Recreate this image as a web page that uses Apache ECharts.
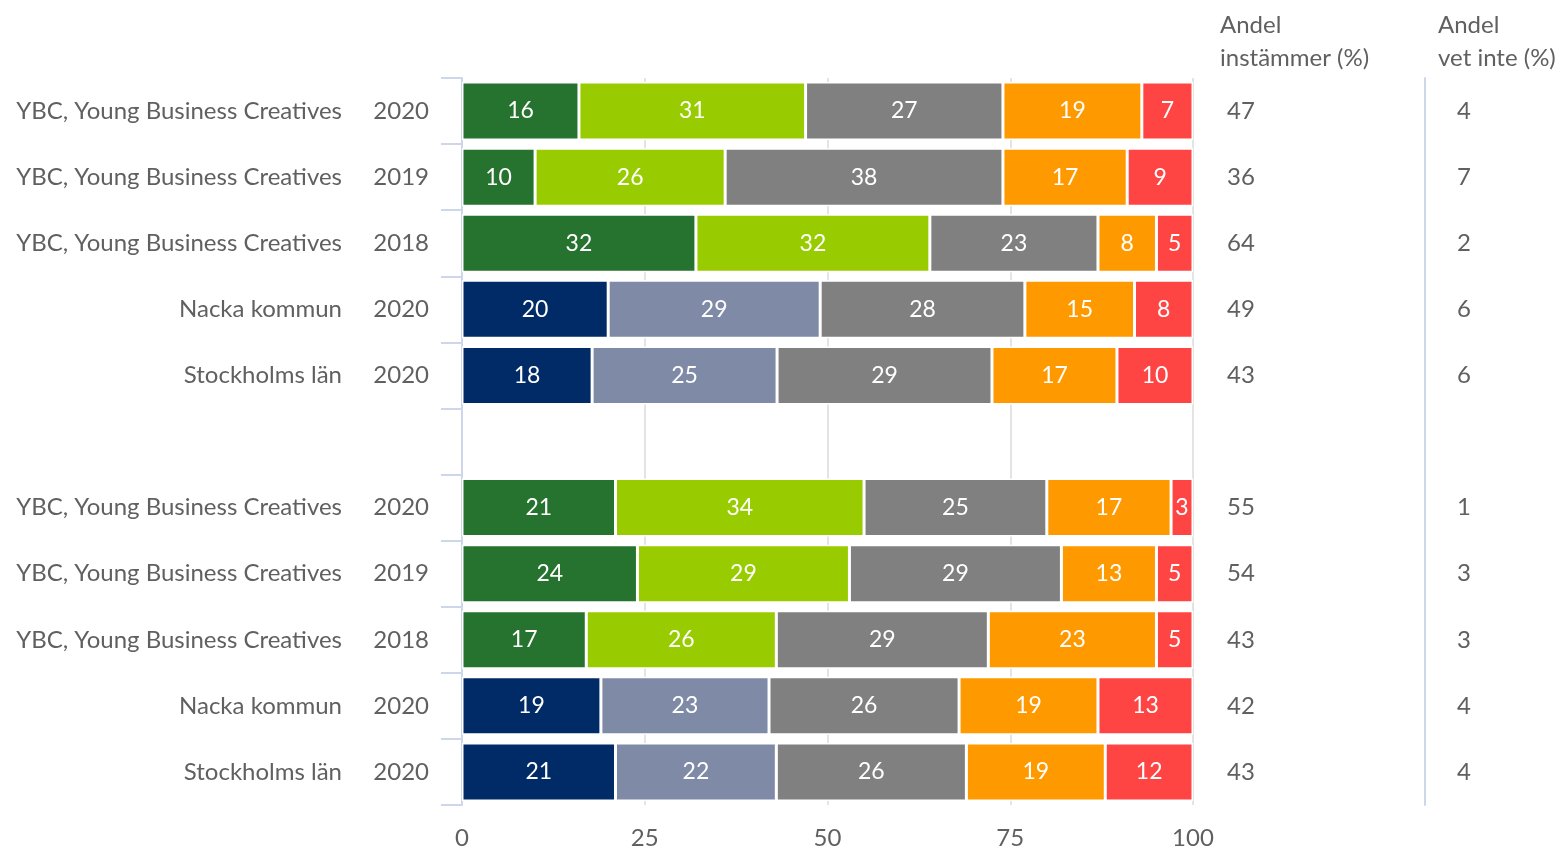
<!DOCTYPE html>
<html style="height: 100%">
<head>
    <meta charset="utf-8">
    <script src="https://cdn.jsdelivr.net/npm/echarts@6/dist/echarts.min.js"></script>
</head>
<body style="height: 100%; margin: 0">
    <div id="main" style="width:1568px;height:850px;"></div>
    <script type="text/javascript">
    // rader (tom rad = mellanrum mellan grupperna)
    var names = ['YBC, Young Business Creatives', 'YBC, Young Business Creatives', 'YBC, Young Business Creatives', 'Nacka kommun', 'Stockholms län', '',
        'YBC, Young Business Creatives', 'YBC, Young Business Creatives', 'YBC, Young Business Creatives', 'Nacka kommun', 'Stockholms län'];
    var years = ['2020', '2019', '2018', '2020', '2020', '', '2020', '2019', '2018', '2020', '2020'];
    var rowKind = ['ybc', 'ybc', 'ybc', 'reg', 'reg', '', 'ybc', 'ybc', 'ybc', 'reg', 'reg'];

    // andelar (%) per svarsalternativ
    var s1 = [16, 10, 32, 20, 17.8, '-', 21, 24, 17, 19, 21];
    var s2 = [31, 26, 32, 29, 25.3, '-', 34, 29, 26, 23, 22];
    var s3 = [27, 38, 23, 28, 29.4, '-', 25, 29, 29, 26, 26];
    var s4 = [19, 17, 8, 15, 17.1, '-', 17, 13, 23, 19, 19];
    var s5 = [7, 9, 5, 8, 10.4, '-', 3, 5, 5, 13, 12];

    var instammer = ['47', '36', '64', '49', '43', '', '55', '54', '43', '42', '43'];
    var vetInte = ['4', '7', '2', '6', '6', '', '1', '3', '3', '4', '4'];

    var xTicks = [0, 25, 50, 75, 100];

    var FONT = 'Lato';
    var FS = 24;
    var TXT = '#606060';
    var AXC = '#cdd6ea';
    var colors1 = { ybc: '#25732f', reg: '#002b66' };
    var colors2 = { ybc: '#99cc00', reg: '#7f8aa6' };

    var rows = names.map(function(n, i) { return 'r' + i; });

    function coloured(arr, map) {
        return arr.map(function(v, i) {
            if (v === '-') return v;
            return { value: v, itemStyle: { color: map[rowKind[i]] } };
        });
    }

    var barLabel = {
        show: true,
        color: '#fff',
        fontFamily: FONT,
        fontSize: 23,
        formatter: function(p) { return Math.round(p.value); }
    };

    function mkSeries(data, color) {
        return {
            type: 'bar',
            stack: 'tot',
            yAxisIndex: 0,
            barWidth: 58,
            data: data,
            label: barLabel,
            itemStyle: { color: color, borderColor: '#fff', borderWidth: 1.5 },
            emphasis: { disabled: true },
            silent: true
        };
    }

    var myChart = echarts.init(document.getElementById('main'));
    var option = {
        animation: false,
        textStyle: { fontFamily: FONT },
        title: [{
            text: 'Andel\ninstämmer (%)',
            left: 1215, top: 4,
            textStyle: { color: TXT, fontFamily: FONT, fontSize: FS, fontWeight: 'normal', lineHeight: 33 }
        }, {
            text: 'Andel\nvet inte (%)',
            left: 1433, top: 4,
            textStyle: { color: TXT, fontFamily: FONT, fontSize: FS, fontWeight: 'normal', lineHeight: 33 }
        }],
        grid: { left: 462, right: 375, top: 78, bottom: 44 },
        xAxis: {
            type: 'value',
            min: 0, max: 100, interval: 25,
            axisLine: { show: false },
            axisTick: { show: false },
            splitLine: { show: true, lineStyle: { color: '#e4e4e4', width: 2 } },
            axisLabel: {
                color: TXT, fontFamily: FONT, fontSize: FS, margin: 21,
                formatter: function(v) { return xTicks.indexOf(v) >= 0 ? String(v) : ''; }
            }
        },
        yAxis: [{
            type: 'category',
            data: rows,
            inverse: true,
            axisLine: { show: true, lineStyle: { color: AXC, width: 2 } },
            axisTick: { show: true, inside: false, length: 21, lineStyle: { color: AXC, width: 2 } },
            axisLabel: {
                margin: 33,
                formatter: function(v, i) {
                    if (!names[i]) return '';
                    return '{n|' + names[i] + '}{y|' + years[i] + '}';
                },
                rich: {
                    n: { color: TXT, fontFamily: FONT, fontSize: FS, align: 'right' },
                    y: { color: TXT, fontFamily: FONT, fontSize: FS, align: 'right', width: 87 }
                }
            }
        }, {
            type: 'category',
            data: rows,
            inverse: true,
            position: 'right',
            axisLine: { show: false },
            axisTick: { show: false },
            axisLabel: {
                margin: 34, align: 'left',
                color: TXT, fontFamily: FONT, fontSize: FS,
                formatter: function(v, i) { return instammer[i]; }
            }
        }, {
            type: 'category',
            data: rows,
            inverse: true,
            position: 'right',
            offset: 232,
            axisLine: { show: true, lineStyle: { color: AXC, width: 2 } },
            axisTick: { show: false },
            axisLabel: {
                margin: 39, align: 'center',
                color: TXT, fontFamily: FONT, fontSize: FS,
                formatter: function(v, i) { return vetInte[i]; }
            }
        }],
        series: [
            mkSeries(coloured(s1, colors1), colors1.ybc),
            mkSeries(coloured(s2, colors2), colors2.ybc),
            mkSeries(s3, '#808080'),
            mkSeries(s4, '#ff9900'),
            mkSeries(s5, '#ff4444')
        ]
    };
    myChart.setOption(option);
    </script>
</body>
</html>
